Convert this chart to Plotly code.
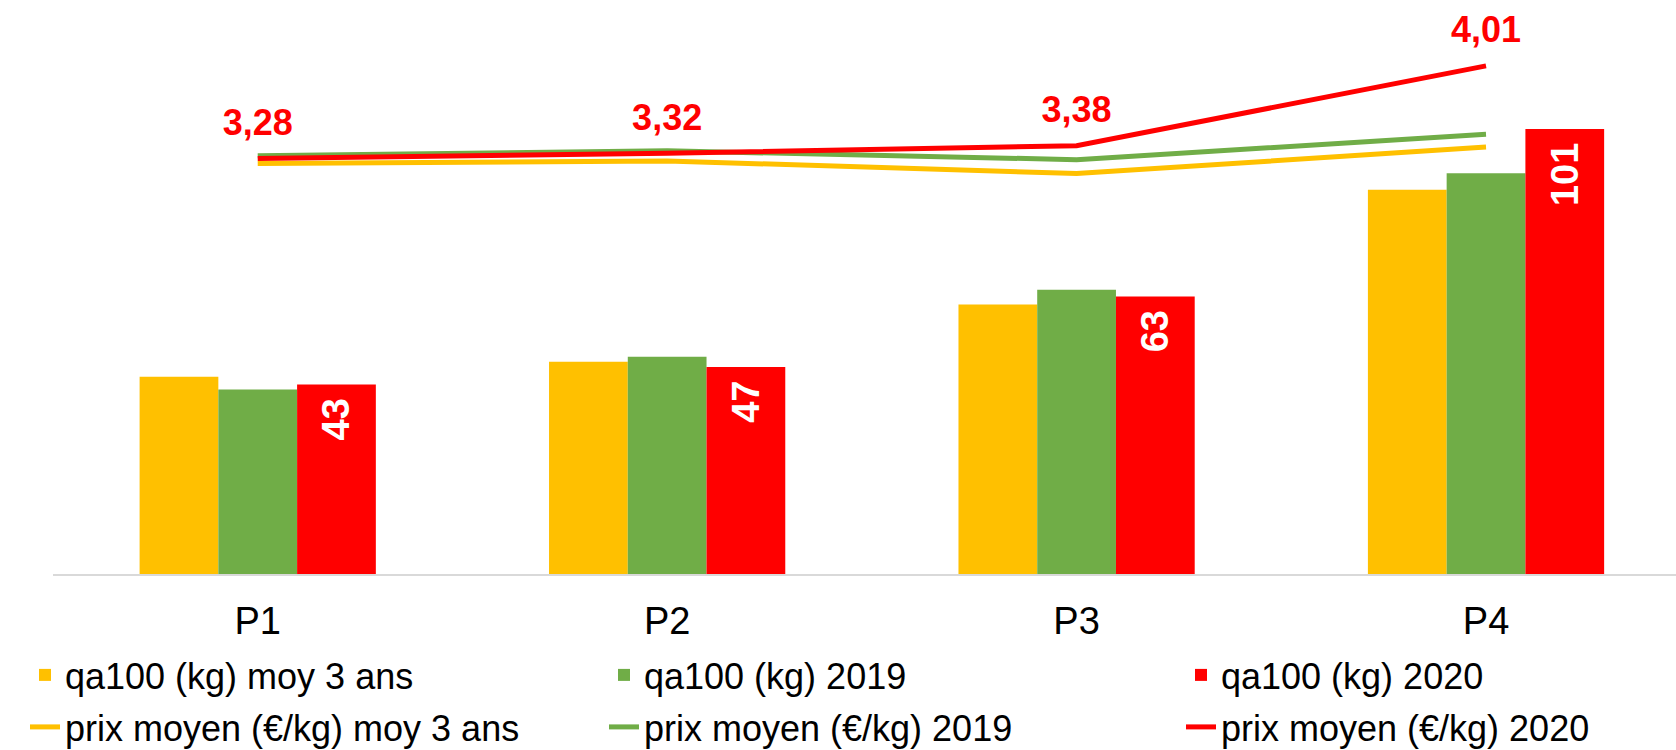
import plotly.graph_objects as go

categories = ["P1", "P2", "P3", "P4"]

qa_moy3 = [44.8, 48.2, 61.2, 87.2]
qa_2019 = [41.9, 49.3, 64.5, 91.0]
qa_2020 = [43, 47, 63, 101]

prix_moy3 = [3.24, 3.26, 3.16, 3.37]
prix_2019 = [3.30, 3.34, 3.27, 3.47]
prix_2020 = [3.28, 3.32, 3.38, 4.01]

YELLOW = "#FFC000"
GREEN = "#70AD47"
RED = "#FF0000"
FONT = "Liberation Sans, Arial, sans-serif"

def fr(v):
    return f"{v:.2f}".replace(".", ",")

fig = go.Figure()

fig.add_trace(go.Bar(x=categories, y=qa_moy3, name="qa100 (kg) moy 3 ans",
                     marker=dict(color=YELLOW, line=dict(width=0)), legend="legend"))
fig.add_trace(go.Bar(x=categories, y=qa_2019, name="qa100 (kg) 2019",
                     marker=dict(color=GREEN, line=dict(width=0)), legend="legend2"))
fig.add_trace(go.Bar(x=categories, y=qa_2020, name="qa100 (kg) 2020",
                     marker=dict(color=RED, line=dict(width=0)), legend="legend3",
                     text=[f"{v}\u00a0" for v in qa_2020], textposition="inside",
                     insidetextanchor="end", textangle=-90, constraintext="none",
                     textfont=dict(color="white", size=38, family=FONT, weight="bold")))

fig.add_trace(go.Scatter(x=categories, y=prix_moy3, name="prix moyen (€/kg) moy 3 ans",
                         mode="lines", line=dict(color=YELLOW, width=5), yaxis="y2",
                         legend="legend4"))
fig.add_trace(go.Scatter(x=categories, y=prix_2019, name="prix moyen (€/kg) 2019",
                         mode="lines", line=dict(color=GREEN, width=5), yaxis="y2",
                         legend="legend5"))
fig.add_trace(go.Scatter(x=categories, y=prix_2020, name="prix moyen (€/kg) 2020",
                         mode="lines+markers+text", line=dict(color=RED, width=5),
                         marker=dict(size=22, color="rgba(255,0,0,0)", line=dict(width=0)),
                         text=[fr(v) for v in prix_2020], textposition="top center",
                         textfont=dict(color=RED, size=36, family=FONT, weight="bold"),
                         cliponaxis=False, yaxis="y2", legend="legend6"))

def leg(xpx, ypx):
    return dict(orientation="h", x=xpx / 1676, xref="container",
                y=1 - ypx / 750, yref="container",
                yanchor="middle", xanchor="left",
                font=dict(size=36, family=FONT, color="black"),
                itemwidth=30, bgcolor="rgba(0,0,0,0)")

fig.update_layout(
    width=1676, height=750,
    margin=dict(l=53, r=0, t=0, b=176, autoexpand=False),
    paper_bgcolor="white", plot_bgcolor="white",
    barmode="group", bargap=0.423, bargroupgap=0,
    font=dict(family=FONT, color="black"),
    showlegend=True,
    legend=leg(25, 675), legend2=leg(604, 675), legend3=leg(1181, 675),
    legend4=leg(25, 727), legend5=leg(604, 727), legend6=leg(1181, 727),
    xaxis=dict(range=[-0.5, 3.464], showgrid=False, zeroline=False,
               showline=True, linecolor="#D9D9D9", linewidth=2,
               ticks="outside", ticklen=12, tickcolor="rgba(0,0,0,0)",
               tickfont=dict(size=38, family=FONT, color="black")),
    yaxis=dict(range=[0, 130.3], visible=False, showgrid=False, zeroline=False),
    yaxis2=dict(range=[0, 4.53], overlaying="y", side="right", visible=False,
                showgrid=False, zeroline=False),
)

fig.write_html("out.html", config={"displayModeBar": False},
               post_script="document.body.style.margin='0';document.body.style.padding='0';")
